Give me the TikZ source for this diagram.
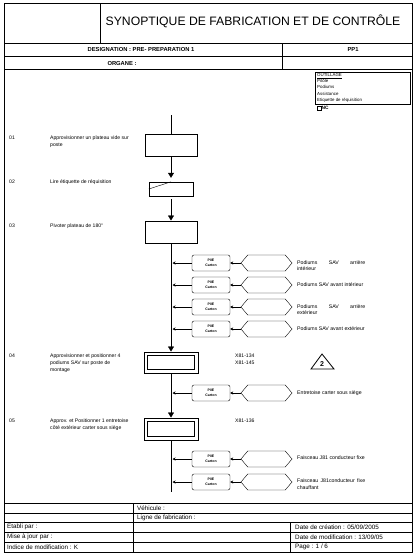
\documentclass[tikz,border=0pt]{standalone}
\usepackage{fontspec}
\setmainfont{Liberation Sans}
\usetikzlibrary{arrows.meta,shapes.symbols}
\tikzset{
  txt/.style={inner sep=0pt, font=\fontsize{5.1}{7}\selectfont},
  hdr/.style={inner sep=0pt, font=\bfseries\fontsize{5.8}{6.5}\selectfont},
  foot/.style={inner sep=0pt, anchor=west, font=\fontsize{6.3}{7}\selectfont},
  stepbox/.style={draw, line width=1pt, minimum width=52pt, minimum height=22pt, inner sep=0pt},
  poebox/.style={draw, rounded corners=2pt, minimum width=38pt, minimum height=16pt, inner sep=0pt, align=center, font=\bfseries\fontsize{3.5}{4.8}\selectfont},
  hexa/.style={draw, signal, signal to=west and east, signal pointer angle=100, minimum width=51pt, minimum height=16pt, inner sep=0pt},
  lbl/.style={txt, anchor=north west, text width=68pt, align=justify, font=\fontsize{5.2}{6.5}\selectfont},
  flow/.style={-{Triangle[width=6pt,length=5pt]}},
  feed/.style={-{Stealth[length=3pt,width=3pt]}}
}
\begin{document}
\begin{tikzpicture}[x=1pt,y=-1pt]
\useasboundingbox (0,0) rectangle (416,555);
% cadre et cartouche
\draw (4,3) rectangle (412,552);
\draw (100,3) -- (100,43);
\draw (4,43) -- (412,43);
\draw (4,56) -- (412,56);
\draw (4,69) -- (412,69);
\draw (282,43) -- (282,69);
\node[inner sep=0pt, font=\fontsize{12.2}{13}\selectfont] (titre) at (253,21) {SYNOPTIQUE DE FABRICATION ET DE CONTRÔLE};
\node[hdr] (desig) at (141,50) {DESIGNATION : PRE- PREPARATION 1};
\node[hdr] (ref) at (353,50) {PP1};
\node[hdr] (organe) at (122,63) {ORGANE :};
% outillage
\draw (315,72) rectangle (410,104);
\node[inner sep=0pt, anchor=north west, align=left, font=\fontsize{4.4}{6.3}\selectfont] (outil) at (317,73) {\underline{OUTILLAGE}\\Pitôle\\Podiums\\Assistance\\Etiquette de réquisition};
\node[draw, line width=0.3pt, minimum size=4pt, inner sep=0pt] (ncbox) at (319,108) {};
\node[inner sep=0pt, anchor=west, font=\bfseries\fontsize{4.8}{5}\selectfont] (nc) at (321.5,108) {NC};
% etapes
\node[txt, anchor=north west] (n1) at (9,136) {01};
\node[txt, anchor=north west, align=left] (d1) at (50,136) {Approvisionner un plateau vide sur\\poste};
\node[txt, anchor=north west] (n2) at (9,180) {02};
\node[txt, anchor=north west] (d2) at (50,180) {Lire étiquette de réquisition};
\node[txt, anchor=north west] (n3) at (9,224) {03};
\node[txt, anchor=north west] (d3) at (50,224) {Pivoter plateau de 180°};
\node[txt, anchor=north west] (n4) at (9,354) {04};
\node[txt, anchor=north west, align=left] (d4) at (50,354) {Approvisionner et positionner 4\\podiums SAV sur poste de\\montage};
\node[txt, anchor=north west] (n5) at (9,419) {05};
\node[txt, anchor=north west, align=left] (d5) at (50,419) {Approv. et Positionner 1 entretoise\\côté extérieur carter sous siège};
\node[txt, anchor=north west, align=left, font=\fontsize{5.1}{6.3}\selectfont] (r4) at (235,354) {X81-134\\X81-145};
\node[txt, anchor=north west] (r5) at (235,419) {X81-136};
\draw[line width=0.8pt] (311,369) -- (322,354) -- (334,369) -- cycle;
\node[inner sep=0pt, font=\bfseries\fontsize{7}{7}\selectfont] (avert) at (322,364) {2};
% boites
\node[stepbox] (s1) at (171,145) {};
\node[draw, minimum width=44pt, minimum height=14pt, inner sep=0pt] (s2) at (171,189) {};
\draw (s2.west) -- (s2.north);
\node[stepbox] (s3) at (171,232) {};
\node[stepbox, minimum width=54pt, minimum height=21pt] (s4) at (171,362.5) {};
\node[draw, minimum width=47pt, minimum height=14pt, inner sep=0pt] (s4in) at (s4) {};
\node[stepbox, minimum width=54pt, minimum height=22pt] (s5) at (171,429) {};
\node[draw, minimum width=47pt, minimum height=15pt, inner sep=0pt] (s5in) at (s5) {};
% ligne principale
\coordinate (debut) at (171,115);
\coordinate (fin) at (171,492);
\draw (debut) -- (s1);
\draw[flow, shorten >=4pt] (s1) -- (s2);
\draw[flow, shorten <=3pt] (s2) -- (s3);
\draw[flow] (s3) -- (s4);
\draw[flow] (s4) -- (s5);
\draw (s5) -- (fin);
% apports
\coordinate (j1) at (171,263);
\node[poebox] (p1) at (211,263) {P0E\\Carton};
\node[hexa] (h1) at (266.5,263) {};
\node[lbl] (l1) at (297,260) {Podiums SAV arrière\linebreak intérieur};
\draw[feed] (h1) -- (p1);
\draw[feed, shorten >=1.5pt] (p1) -- (j1);
\coordinate (j2) at (171,285);
\node[poebox] (p2) at (211,285) {P0E\\Carton};
\node[hexa] (h2) at (266.5,285) {};
\node[lbl] (l2) at (297,282) {Podiums SAV avant intérieur};
\draw[feed] (h2) -- (p2);
\draw[feed, shorten >=1.5pt] (p2) -- (j2);
\coordinate (j3) at (171,307);
\node[poebox] (p3) at (211,307) {P0E\\Carton};
\node[hexa] (h3) at (266.5,307) {};
\node[lbl] (l3) at (297,304) {Podiums SAV arrière\linebreak extérieur};
\draw[feed] (h3) -- (p3);
\draw[feed, shorten >=1.5pt] (p3) -- (j3);
\coordinate (j4) at (171,329);
\node[poebox] (p4) at (211,329) {P0E\\Carton};
\node[hexa] (h4) at (266.5,329) {};
\node[lbl] (l4) at (297,326) {Podiums SAV avant extérieur};
\draw[feed] (h4) -- (p4);
\draw[feed, shorten >=1.5pt] (p4) -- (j4);
\coordinate (j5) at (171,393);
\node[poebox] (p5) at (211,393) {P0E\\Carton};
\node[hexa] (h5) at (266.5,393) {};
\node[lbl] (l5) at (297,390) {Entretoise carter sous siège};
\draw[feed] (h5) -- (p5);
\draw[feed, shorten >=1.5pt] (p5) -- (j5);
\coordinate (j6) at (171,459);
\node[poebox] (p6) at (211,459) {P0E\\Carton};
\node[hexa] (h6) at (266.5,459) {};
\node[lbl] (l6) at (297,456) {Faisceau J81 conducteur fixe};
\draw[feed] (h6) -- (p6);
\draw[feed, shorten >=1.5pt] (p6) -- (j6);
\coordinate (j7) at (171,482);
\node[poebox] (p7) at (211,482) {P0E\\Carton};
\node[hexa] (h7) at (266.5,482) {};
\node[lbl] (l7) at (297,479) {Faisceau J81conducteur fixe\linebreak chauffant};
\draw[feed] (h7) -- (p7);
\draw[feed, shorten >=1.5pt] (p7) -- (j7);
% pied de page
\draw (4,503) -- (412,503);
\draw (4,513) -- (412,513);
\draw (4,522) -- (412,522);
\draw (4,532) -- (412,532);
\draw (4,542) -- (412,542);
\draw (133,503) -- (133,552);
\draw (290,522) -- (290,552);
\node[foot] (vehic) at (137,508) {Véhicule :};
\node[foot] (ligne) at (137,517.5) {Ligne de fabrication :};
\node[foot] (etabli) at (7,527) {Etabli par :};
\node[foot] (maj) at (7,537) {Mise à jour par :};
\node[foot] (indice) at (7,547) {Indice de modification : K};
\node[foot] (creat) at (295,527) {Date de création : 05/09/2005};
\node[foot] (modif) at (295,537) {Date de modification : 13/09/05};
\node[foot] (page) at (295,547) {Page : 1 / 6};
\end{tikzpicture}
\end{document}
